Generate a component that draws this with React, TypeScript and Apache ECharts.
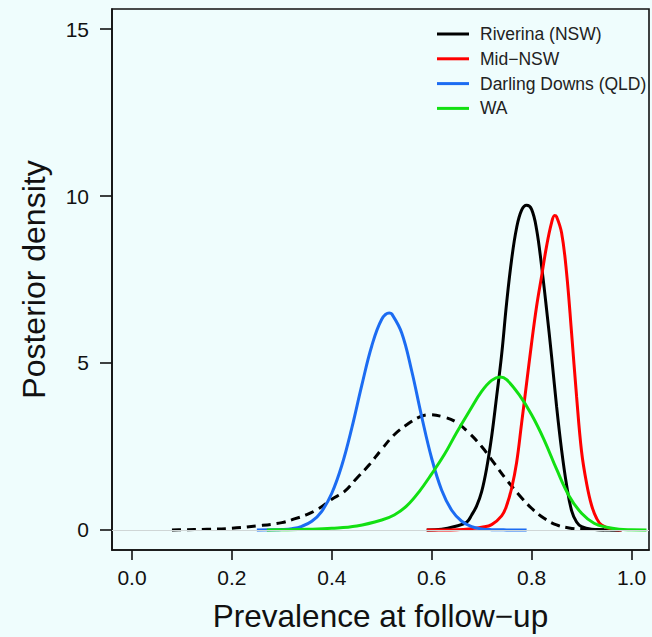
import React, { useEffect, useRef } from "react";
import * as echarts from "echarts";

// Posterior density curves: [prevalence, density]
const riverina: [number, number][] = [
  [0.59, 0], [0.62, 0.02], [0.65, 0.12], [0.67, 0.23], [0.68, 0.45], [0.69, 0.72],
  [0.7, 1.15], [0.71, 1.85], [0.72, 2.8], [0.73, 4.0], [0.74, 5.25], [0.75, 6.8],
  [0.76, 8.1], [0.77, 9.05], [0.78, 9.58], [0.79, 9.72], [0.8, 9.6], [0.81, 9.0],
  [0.82, 7.9], [0.83, 6.6], [0.84, 5.2], [0.85, 3.7], [0.86, 2.4], [0.87, 1.35],
  [0.88, 0.58], [0.89, 0.24], [0.9, 0.1], [0.92, 0.02], [0.95, 0], [0.98, 0],
];
const midNsw: [number, number][] = [
  [0.59, 0], [0.65, 0.01], [0.68, 0.04], [0.7, 0.08], [0.72, 0.16], [0.74, 0.42],
  [0.75, 0.73], [0.76, 1.25], [0.77, 2.02], [0.78, 3.2], [0.79, 4.4], [0.8, 5.6],
  [0.81, 6.7], [0.82, 7.6], [0.83, 8.5], [0.84, 9.2], [0.846, 9.42], [0.85, 9.38],
  [0.86, 8.9], [0.87, 7.7], [0.88, 5.9], [0.89, 4.0], [0.9, 2.35], [0.91, 1.4],
  [0.92, 0.74], [0.93, 0.35], [0.94, 0.15], [0.96, 0.03], [0.98, 0],
];
const darlingDowns: [number, number][] = [
  [0.25, 0], [0.28, 0.004], [0.3, 0.013], [0.32, 0.04], [0.34, 0.11], [0.36, 0.26],
  [0.38, 0.56], [0.4, 1.1], [0.42, 1.93], [0.44, 3.05], [0.46, 4.33], [0.48, 5.51],
  [0.5, 6.31], [0.515, 6.5], [0.52, 6.47], [0.54, 5.9], [0.56, 4.76], [0.58, 3.39],
  [0.6, 2.14], [0.62, 1.19], [0.64, 0.59], [0.66, 0.26], [0.68, 0.1], [0.7, 0.033],
  [0.72, 0.01], [0.75, 0.002], [0.79, 0],
];
const wa: [number, number][] = [
  [0.27, 0], [0.3, 0.005], [0.35, 0.02], [0.4, 0.05], [0.45, 0.12], [0.5, 0.3],
  [0.525, 0.45], [0.55, 0.72], [0.575, 1.15], [0.6, 1.68], [0.625, 2.25], [0.65, 2.92],
  [0.675, 3.55], [0.7, 4.15], [0.72, 4.48], [0.737, 4.58], [0.75, 4.5], [0.775, 4.05],
  [0.8, 3.45], [0.825, 2.7], [0.85, 1.82], [0.875, 1.02], [0.9, 0.5], [0.925, 0.2],
  [0.95, 0.08], [0.975, 0.02], [1.0, 0.005], [1.03, 0],
];
const prior: [number, number][] = [
  [0.08, 0], [0.1, 0.005], [0.15, 0.02], [0.2, 0.05], [0.25, 0.12], [0.3, 0.22],
  [0.325, 0.33], [0.35, 0.46], [0.375, 0.65], [0.4, 0.92], [0.425, 1.15], [0.45, 1.55],
  [0.475, 1.95], [0.5, 2.42], [0.525, 2.85], [0.55, 3.15], [0.575, 3.38], [0.595, 3.45],
  [0.625, 3.38], [0.65, 3.22], [0.675, 2.9], [0.7, 2.5], [0.725, 2.0], [0.75, 1.5],
  [0.775, 1.05], [0.8, 0.65], [0.825, 0.35], [0.85, 0.15], [0.875, 0.06], [0.9, 0.025],
  [0.95, 0.005], [0.98, 0],
];

const seriesNames = ["Riverina (NSW)", "Mid\u2212NSW", "Darling Downs (QLD)", "WA"];
const seriesColors = ["#000000", "#ff0000", "#1c6cf2", "#12e012"];
const xTicks = [0, 0.2, 0.4, 0.6, 0.8, 1.0];
const yTicks = [0, 5, 10, 15];

const X_MIN = -0.04;
const X_MAX = 1.035;
const Y_MIN = -0.6;
const Y_MAX = 15.6;

export default function App() {
  const ref = useRef<HTMLDivElement>(null);
  useEffect(() => {
    document.body.style.margin = "0";
    document.body.style.background = "#effdfd";
    const chart = echarts.init(ref.current!, null, { renderer: "svg" });
    const font = "'Liberation Sans', Arial, sans-serif";
    const curves = [riverina, midNsw, darlingDowns, wa];
    const lineSeries = curves.map((d, i) => ({
      name: seriesNames[i],
      type: "line",
      data: d,
      smooth: 0.4,
      symbol: "none",
      lineStyle: { color: seriesColors[i], width: 3 },
      itemStyle: { color: seriesColors[i] },
      z: 3,
    }));
    const axisLine = { show: true, onZero: false, lineStyle: { color: "#111", width: 1.6 } };
    chart.setOption({
      animation: false,
      backgroundColor: "#effdfd",
      textStyle: { fontFamily: font },
      grid: {
        left: 112, right: 3, top: 9, bottom: 86,
        show: true, borderColor: "#111", borderWidth: 1.6, backgroundColor: "transparent",
      },
      legend: {
        data: seriesNames,
        orient: "vertical",
        left: 432,
        top: 20,
        icon: "path://M0,0 L32,0 L32,3 L0,3 Z",
        itemWidth: 32,
        itemHeight: 3,
        itemGap: 6.8,
        textStyle: { fontSize: 17.5, color: "#222", fontFamily: font, lineHeight: 18, padding: [0, 0, 0, 6] },
        selectedMode: false,
      },
      xAxis: {
        type: "value",
        min: X_MIN,
        max: X_MAX,
        name: "Prevalence at follow\u2212up",
        nameLocation: "middle",
        nameGap: 50,
        nameTextStyle: { fontSize: 31.5, color: "#111", fontFamily: font },
        axisLine,
        splitLine: { show: false },
        axisTick: { show: true, length: 10, customValues: xTicks, lineStyle: { color: "#111", width: 1.6 } },
        axisLabel: {
          customValues: xTicks,
          fontSize: 21,
          color: "#111",
          margin: 17,
          formatter: (v: number) => v.toFixed(1),
        },
      },
      yAxis: {
        type: "value",
        min: Y_MIN,
        max: Y_MAX,
        name: "Posterior density",
        nameLocation: "middle",
        nameGap: 62,
        nameTextStyle: { fontSize: 32, color: "#111", fontFamily: font },
        axisLine,
        splitLine: { show: false },
        axisTick: { show: true, length: 12, customValues: yTicks, lineStyle: { color: "#111", width: 1.6 } },
        axisLabel: { customValues: yTicks, fontSize: 21, color: "#111", margin: 23 },
      },
      series: [
        {
          name: "prior",
          type: "line",
          data: prior,
          smooth: 0.4,
          symbol: "none",
          lineStyle: { color: "#000", width: 3, type: [9, 6] },
          z: 2,
          markLine: {
            silent: true,
            symbol: "none",
            label: { show: false },
            lineStyle: { color: "#cfd6d6", width: 1, type: "solid" },
            data: [{ yAxis: 0 }],
          },
        },
        ...lineSeries,
      ],
    });

    return () => chart.dispose();
  }, []);
  return <div ref={ref} style={{ width: 652, height: 637 }} />;
}
